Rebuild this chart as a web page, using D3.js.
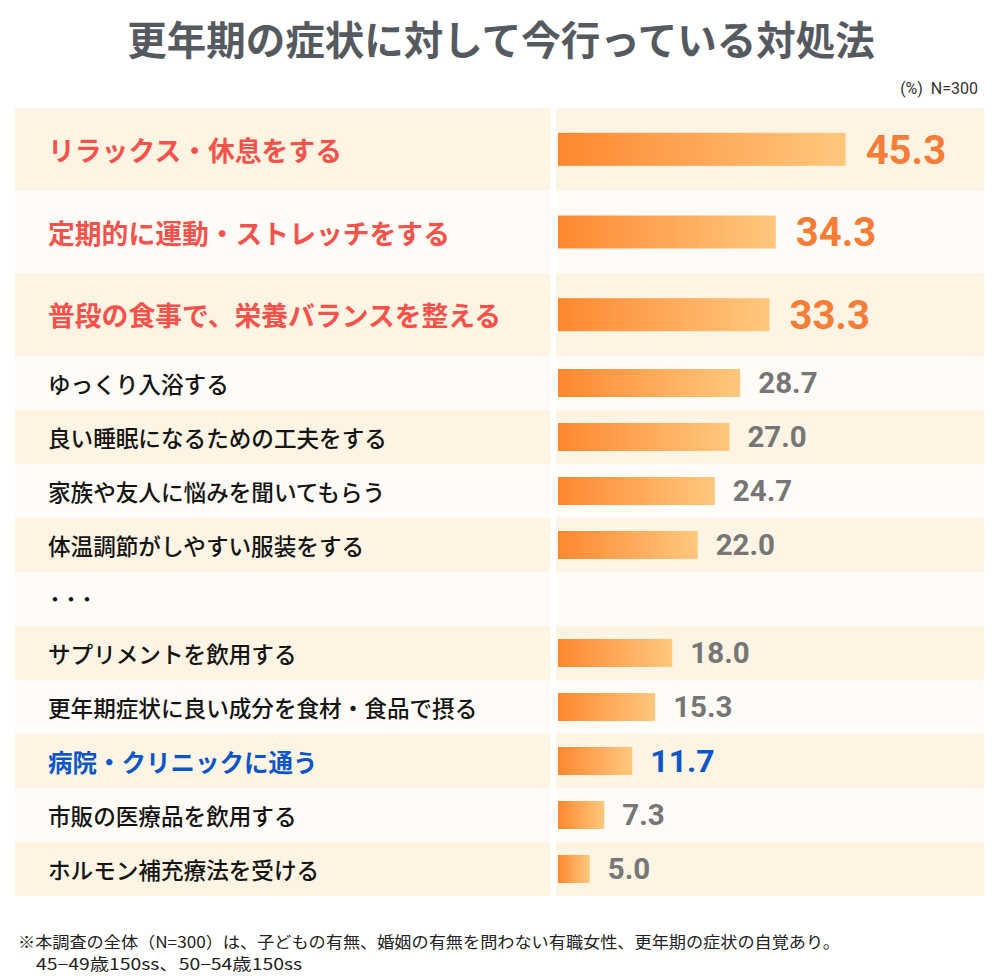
<!DOCTYPE html>
<html><head><meta charset="utf-8">
<script src="https://cdn.jsdelivr.net/npm/d3@7"></script>
<style>
html,body{margin:0;padding:0;background:#fff;}
svg{display:block;}
</style></head>
<body>
<svg id="chart" width="1000" height="980"></svg>
<script>
const title = "更年期の症状に対して今行っている対処法";
const unitNote = "(%)  N=300";
const categories = [
  "リラックス・休息をする",
  "定期的に運動・ストレッチをする",
  "普段の食事で、栄養バランスを整える",
  "ゆっくり入浴する",
  "良い睡眠になるための工夫をする",
  "家族や友人に悩みを聞いてもらう",
  "体温調節がしやすい服装をする",
  "・・・",
  "サプリメントを飲用する",
  "更年期症状に良い成分を食材・食品で摂る",
  "病院・クリニックに通う",
  "市販の医療品を飲用する",
  "ホルモン補充療法を受ける"
];
const values = [45.3, 34.3, 33.3, 28.7, 27.0, 24.7, 22.0, null, 18.0, 15.3, 11.7, 7.3, 5.0];
const valueLabels = ["45.3","34.3","33.3","28.7","27.0","24.7","22.0","","18.0","15.3","11.7","7.3","5.0"];
const rowKinds = ["top","top","top","normal","normal","normal","normal","gap","normal","normal","blue","normal","normal"];
const footnotes = [
  "※本調査の全体（N=300）は、子どもの有無、婚姻の有無を問わない有職女性、更年期の症状の自覚あり。",
  "45−49歳150ss、50−54歳150ss"
];

const svg = d3.select("#chart");
const JP = "'Noto Sans CJK JP','Noto Sans',sans-serif";
const NUM = "Roboto,'Noto Sans',sans-serif";

const defs = svg.append("defs");
const grad = defs.append("linearGradient").attr("id","barGrad")
  .attr("x1","0%").attr("x2","100%").attr("y1","0%").attr("y2","0%");
grad.append("stop").attr("offset","0%").attr("stop-color","#fe8830");
grad.append("stop").attr("offset","100%").attr("stop-color","#ffc87e");

// Title
svg.append("text").attr("x",501).attr("y",55).attr("text-anchor","middle")
  .attr("font-family",JP).attr("font-weight",700).attr("font-size",39.5)
  .attr("fill","#555a60").text(title);
svg.append("text").attr("x",978).attr("y",94).attr("text-anchor","end")
  .attr("font-family",NUM).attr("font-size",16).attr("fill","#333")
  .attr("xml:space","preserve").text(unitNote);

// Row layout
const topY = 108;
const heights = rowKinds.map(k => k === "top" ? 82.67 : 54);
const offsets = [0, ...d3.cumsum(heights)];
const rows = categories.map((c,i) => ({
  label: c, value: values[i], vlabel: valueLabels[i], kind: rowKinds[i],
  y0: topY + offsets[i], h: heights[i], i
}));

const x = d3.scaleLinear().domain([0, 50]).range([558, 558 + 317.5]);

const bgColor = i => i % 2 === 0 ? "#fef4e3" : "#fffcf7";

const g = svg.append("g");
// backgrounds
g.selectAll("rect.bgl").data(rows).join("rect").attr("class","bgl")
  .attr("x",15).attr("width",535).attr("y",d=>d.y0).attr("height",d=>d.h)
  .attr("fill",d=>bgColor(d.i));
g.selectAll("rect.bgr").data(rows).join("rect").attr("class","bgr")
  .attr("x",556).attr("width",428).attr("y",d=>d.y0).attr("height",d=>d.h)
  .attr("fill",d=>bgColor(d.i));

// labels
const labelColor = k => k === "top" ? "#f4524a" : k === "blue" ? "#0a55c8" : "#141414";
const labelSize = k => k === "top" ? 26.8 : k === "blue" ? 24.5 : 22.6;
const labelWeight = k => (k === "top" || k === "blue") ? 700 : 500;
g.selectAll("text.lab").data(rows).join("text").attr("class","lab")
  .attr("x",d => d.kind === "gap" ? 47 : 48)
  .attr("y",d => d.kind === "gap" ? d.y0 + 26 : d.y0 + d.h/2)
  .attr("dominant-baseline","central")
  .attr("font-family",JP)
  .attr("font-size",d => d.kind === "gap" ? 16 : labelSize(d.kind))
  .attr("font-weight",d => d.kind === "gap" ? 900 : labelWeight(d.kind))
  .attr("fill",d => labelColor(d.kind))
  .text(d => d.label);

// bars
const barRows = rows.filter(d => d.value != null);
g.selectAll("rect.bar").data(barRows).join("rect").attr("class","bar")
  .attr("x",x(0))
  .attr("width",d => x(d.value) - x(0))
  .attr("y",d => d.y0 + d.h/2 - (d.kind === "top" ? 16.5 : 14))
  .attr("height",d => d.kind === "top" ? 33 : 28)
  .attr("fill","url(#barGrad)");

// value labels
const valSize = k => k === "top" ? 40 : k === "blue" ? 32 : 29.5;
const valColor = k => k === "top" ? "#f57d37" : k === "blue" ? "#0a55c8" : "#767676";
g.selectAll("text.val").data(barRows).join("text").attr("class","val")
  .attr("x",d => x(d.value) + (d.kind === "top" ? 20 : 18))
  .attr("y",d => d.y0 + d.h/2 + 0.355*valSize(d.kind))
  .attr("font-family",NUM).attr("font-weight",700)
  .attr("font-size",d => valSize(d.kind))
  .attr("fill",d => valColor(d.kind))
  .text(d => d.vlabel);

// footnotes
svg.append("text").attr("x",18).attr("y",948)
  .attr("font-family",JP).attr("font-size",16).attr("fill","#222")
  .attr("textLength",822).attr("lengthAdjust","spacingAndGlyphs")
  .text(footnotes[0]);
svg.append("text").attr("x",36).attr("y",970)
  .attr("font-family",JP).attr("font-size",16).attr("fill","#222")
  .attr("textLength",266).attr("lengthAdjust","spacingAndGlyphs")
  .text(footnotes[1]);
</script>
</body></html>
